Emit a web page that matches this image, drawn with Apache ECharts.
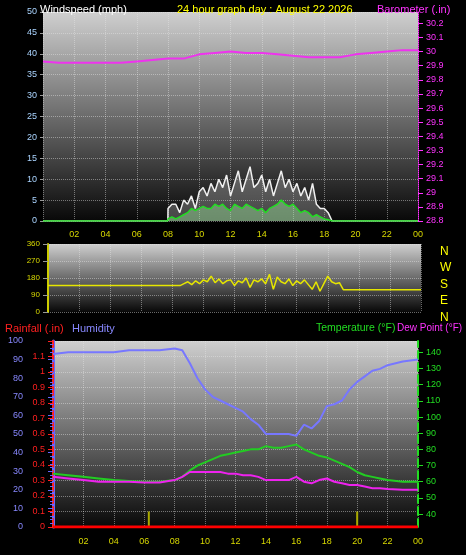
<!DOCTYPE html><html><head><meta charset="utf-8">
<script src="https://cdn.jsdelivr.net/npm/echarts@6/dist/echarts.min.js"></script>
<style>html,body{margin:0;background:#000}#c{width:466px;height:555px}</style></head><body><div id="c"></div><script>
const baroHours=[0,1,2,3,4,5,6,7,8,9,10,11,12,13,14,15,16,17,18,19,20,21,22,23,24];
const baroValues=[29.93,29.92,29.92,29.92,29.92,29.92,29.93,29.94,29.95,29.95,29.98,29.99,30.0,29.99,29.99,29.98,29.97,29.96,29.96,29.96,29.98,29.99,30.0,30.01,30.01];
const windStart=8.0,windStep=0.25;
const windGust=[3,4,4,2,5,4,6,3,7,8,6,9,7,10,8,11,6,9,12,7,10,13,8,9,11,7,10,6,9,12,8,10,7,9,6,8,5,9,4,3,3,2,0];
const windAvg=[0.5,1,0.5,1,1.5,2,3,2.5,3,3.5,3,3,4,3.5,4,3,2.5,4,3.5,3,4,3.5,3,2.5,3,2,3,3.5,4,5,4,3.5,4,3,2,2.5,2,1,1.5,1,0.5,0.3,0];
const dirHours=[0,8.5,8.75,9,9.25,9.5,9.75,10,10.25,10.5,10.75,11,11.25,11.5,11.75,12,12.25,12.5,12.75,13,13.25,13.5,13.75,14,14.25,14.5,14.75,15,15.25,15.5,15.75,16,16.25,16.5,16.75,17,17.25,17.5,17.75,18,18.25,18.5,18.75,19,24];
const dirValues=[140,140,150,160,145,165,150,170,160,190,155,175,150,165,170,140,165,155,180,130,170,160,175,150,200,120,185,160,150,175,140,165,150,170,145,120,160,110,150,190,160,150,155,118,118];
const thHours=[0,1,2,3,4,5,6,7,8,8.5,9,9.5,10,10.5,11,11.5,12,12.5,13,13.5,14,14.5,15,15.5,16,16.5,17,17.5,18,18.5,19,19.5,20,20.5,21,21.5,22,23,24];
const tempValues=[65,64,63,62,61,60.5,60,60,61,63,67,70,72,74,76,77,78,79,80,80,82,81,81,82,83,80,78,76,75,73,71,69,66,64,63,62,61,60,60];
const humValues=[93,94,94,94,94,95,95,95,96,95,88,80,74,70,68,66,64,62,58,55,50,50,50,50,49,55,53,57,65,66,68,74,78,81,84,85,87,89,90];
const dewValues=[63,62,61,60,60,60,59.5,59.5,61,63,66,66,66,66,66,65,65,64,64,63,61,61,61,61,63,60,59,61,62,60,59,58,58,57,56,56,55.5,55,55];
const rainMarkHours=[6.3,20];
const rainMarkValues=[0.1,0.1];
const baroTicks=[28.8,28.9,29,29.1,29.2,29.3,29.4,29.5,29.6,29.7,29.8,29.9,30,30.1,30.2];
const tempTicks=[40,50,60,70,80,90,100,110,120,130,140];

const pair=(xs,ys)=>ys.map((v,i)=>[xs[i],v]);
const windX=i=>windStart+i*windStep;
const gustData=[[0,0],[windStart-0.01,0]].concat(windGust.map((v,i)=>[windX(i),v])).concat([[24,0]]);
const avgData=[[0,0],[windStart-0.01,0]].concat(windAvg.map((v,i)=>[windX(i),v])).concat([[24,0]]);
const bg={type:'linear',x:0,y:0,x2:0,y2:1,colorStops:[{offset:0,color:'#cfcfcf'},{offset:1,color:'#080808'}]};
const F='Liberation Sans';
const gl={show:true,lineStyle:{color:'rgba(230,230,230,0.45)',type:'dotted'}};
function xa(gi,pos,show,margin){return {type:'value',gridIndex:gi,min:0,max:24,interval:2,position:pos,axisLine:{show:false},axisTick:{show:false},
 axisLabel:{show:show,margin:margin,color:'#d8d800',fontSize:9,fontFamily:F,formatter:v=>v===0?'':String(v%24).padStart(2,'0')},splitLine:gl};}
const T=(text,pos,color,extra)=>Object.assign({text:text,textStyle:Object.assign({color:color,fontSize:11,fontWeight:'normal',fontFamily:F},extra||{})},pos);
const opt={backgroundColor:'#000',animation:false,
 title:[
  T('Windspeed (mph)',{left:35,top:-1},'#fff'),
  T('24 hour graph day : August 22 2026',{left:172,top:-1},'#ffff00'),
  T('Barometer (.in)',{left:372,top:-1},'#ff33ff'),
  T('Rainfall (.in)',{left:0,top:318},'#ff2020'),
  T('Humidity',{left:67,top:318},'#8888ff'),
  T('Temperature (°F)',{left:311,top:318},'#22dd22',{fontSize:10.5}),
  T('Dew Point (°F)',{left:392,top:318},'#ff33ff',{fontSize:10}),
  T('N\nW\nS\nE\nN',{left:435,top:238},'#ffff00',{fontSize:12,lineHeight:16.5})
 ],
 grid:[
  {left:43,right:48,top:12,height:209,show:true,backgroundColor:bg,borderWidth:0},
  {left:48,right:45,top:244,height:68,show:true,backgroundColor:bg,borderWidth:0},
  {left:53,right:48,top:341,height:186,show:true,backgroundColor:bg,borderWidth:0}
 ],
 xAxis:[xa(0,'bottom',true,9),xa(1,'top',false,4),xa(2,'bottom',true,10)],
 yAxis:[
  {type:'value',gridIndex:0,min:0,max:50,interval:5,axisLine:{show:false},axisTick:{show:true,lineStyle:{color:'#999'},length:3},
   axisLabel:{color:'#aad4ff',fontSize:9,fontFamily:F,margin:6},splitLine:gl},
  {type:'value',gridIndex:0,min:28.8,max:30.28,position:'right',axisLine:{show:true,lineStyle:{color:'#ff33ff',type:'dotted'}},
   axisTick:{show:true,customValues:baroTicks,lineStyle:{color:'#ff33ff'}},
   axisLabel:{color:'#ff33ff',fontSize:9,fontFamily:F,customValues:baroTicks,formatter:v=>String(+v.toFixed(1))},splitLine:{show:false}},
  {type:'value',gridIndex:1,min:0,max:360,interval:90,axisLine:{show:true,lineStyle:{color:'#cccc00',width:2}},axisTick:{show:true,lineStyle:{color:'#999'}},
   axisLabel:{color:'#d8d800',fontSize:8,fontFamily:F},splitLine:gl},
  {type:'value',gridIndex:2,min:0,max:100,interval:10,position:'left',offset:22,axisLine:{show:true,lineStyle:{color:'#6666ff',width:3}},axisTick:{show:true,lineStyle:{color:'#6666ff'}},
   minorTick:{show:true,splitNumber:5,lineStyle:{color:'#6666ff'}},
   axisLabel:{color:'#8888ff',fontSize:9,fontFamily:F,margin:8},splitLine:{show:false}},
  {type:'value',gridIndex:2,min:0,max:1.2,interval:0.1,position:'left',offset:0,axisLine:{show:true,lineStyle:{color:'#ff2020',type:'dashed',width:2}},axisTick:{show:true,lineStyle:{color:'#ff2020'}},
   axisLabel:{color:'#ff2020',fontSize:9,fontFamily:F,formatter:v=>v===1.2?'':String(+v.toFixed(1))},splitLine:gl},
  {type:'value',gridIndex:2,min:32,max:147,position:'right',axisLine:{show:true,lineStyle:{color:'#22dd22',type:'dashed',width:2}},
   axisTick:{show:true,customValues:tempTicks,lineStyle:{color:'#22dd22'}},
   axisLabel:{color:'#22dd22',fontSize:9,fontFamily:F,customValues:tempTicks},splitLine:{show:false}}
 ],
 series:[
  {type:'line',xAxisIndex:0,yAxisIndex:0,data:gustData,showSymbol:false,lineStyle:{color:'#f0f0f0',width:1.5},areaStyle:{color:'rgba(200,200,200,0.45)'}},
  {type:'line',xAxisIndex:0,yAxisIndex:0,data:avgData,showSymbol:false,lineStyle:{color:'#22dd22',width:1.5},areaStyle:{color:'rgba(170,255,170,0.55)'}},
  {type:'line',xAxisIndex:0,yAxisIndex:1,data:pair(baroHours,baroValues),showSymbol:false,lineStyle:{color:'#ee33ee',width:2}},
  {type:'line',xAxisIndex:1,yAxisIndex:2,data:pair(dirHours,dirValues),showSymbol:false,lineStyle:{color:'#e6e600',width:1.5}},
  {type:'line',xAxisIndex:2,yAxisIndex:3,data:pair(thHours,humValues),showSymbol:false,lineStyle:{color:'#7777ff',width:2}},
  {type:'line',xAxisIndex:2,yAxisIndex:5,data:pair(thHours,tempValues),showSymbol:false,lineStyle:{color:'#22cc22',width:2}},
  {type:'line',xAxisIndex:2,yAxisIndex:5,data:pair(thHours,dewValues),showSymbol:false,lineStyle:{color:'#ee22ee',width:2}},
  {type:'bar',xAxisIndex:2,yAxisIndex:4,data:pair(rainMarkHours,rainMarkValues),barWidth:2,itemStyle:{color:'#aaaa00'}},
  {type:'line',xAxisIndex:2,yAxisIndex:4,data:[[0,0],[24,0]],showSymbol:false,lineStyle:{color:'#ff0000',width:3}}
 ]};
echarts.init(document.getElementById('c')).setOption(opt);
</script></body></html>
